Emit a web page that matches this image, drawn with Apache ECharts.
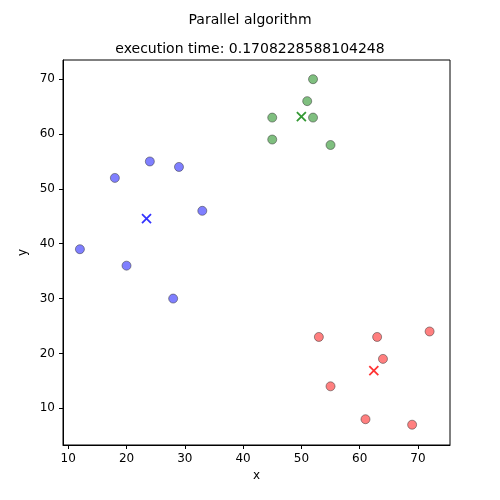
<!DOCTYPE html>
<html>
<head>
<meta charset="utf-8">
<script src="https://cdn.jsdelivr.net/npm/echarts@6/dist/echarts.min.js"></script>
<style>html,body{margin:0;padding:0;background:#fff}#chart{width:500px;height:500px}</style>
</head>
<body>
<div id="chart"></div>
<script>
var blue = [[12, 39], [18, 52], [20, 36], [24, 55], [28, 30], [29, 54], [33, 46]];
var green = [[45, 63], [45, 59], [51, 66], [52, 70], [52, 63], [55, 58]];
var red = [[53, 23], [55, 14], [61, 8], [63, 23], [64, 19], [69, 7], [72, 24]];
var centroids = [[23.43, 44.57, '#0000ff'], [50, 63.17, '#008000'], [62.43, 16.86, '#ff0000']];
var xTicks = [10, 20, 30, 40, 50, 60, 70];
var yTicks = [10, 20, 30, 40, 50, 60, 70];
var crossPath = 'path://M0,0L10,10M10,0L0,10';

var myChart = echarts.init(document.getElementById('chart'));
function pts(name, data, color) {
  return {
    name: name, type: 'scatter', data: data, symbolSize: 9,
    itemStyle: { color: color, opacity: 0.5, borderColor: '#333', borderWidth: 1 },
    emphasis: { disabled: true }
  };
}
var series = [
  pts('c0', blue, '#0000ff'),
  pts('c1', green, '#008000'),
  pts('c2', red, '#ff0000')
];
centroids.forEach(function (c) {
  series.push({
    type: 'scatter', data: [[c[0], c[1]]], symbol: crossPath, symbolSize: 9,
    itemStyle: { color: 'none', borderColor: c[2], borderWidth: 1.8 }
  });
});
function axis(name, min, max, ticks, gap) {
  return {
    type: 'value', min: min, max: max, name: name, nameLocation: 'middle', nameGap: gap,
    axisLine: { show: true, onZero: false, lineStyle: { color: '#000' } },
    axisTick: { show: true, length: 4, customValues: ticks, lineStyle: { color: '#000' } },
    axisLabel: { color: '#000', fontSize: 12, fontFamily: 'DejaVu Sans', customValues: ticks },
    splitLine: { show: false },
    nameTextStyle: { color: '#000', fontSize: 12, fontFamily: 'DejaVu Sans' }
  };
}
myChart.setOption({
  animation: false,
  title: [
    { text: 'Parallel algorithm', left: 'center', top: 8, textStyle: { fontSize: 14, fontWeight: 'normal', color: '#000', fontFamily: 'DejaVu Sans' } },
    { text: 'execution time: 0.1708228588104248', left: 'center', top: 37, textStyle: { fontSize: 14, fontWeight: 'normal', color: '#000', fontFamily: 'DejaVu Sans' } }
  ],
  grid: { left: 63, right: 50, top: 60, bottom: 55 },
  xAxis: axis('x', 9.1, 75.5, xTicks, 25),
  yAxis: axis('y', 3.3, 73.5, yTicks, 30),
  series: series,
  graphic: [{ type: 'rect', shape: { x: 63, y: 60, width: 387, height: 385 }, style: { fill: 'none', stroke: '#000', lineWidth: 1 }, silent: true }]
});
</script>
</body>
</html>
